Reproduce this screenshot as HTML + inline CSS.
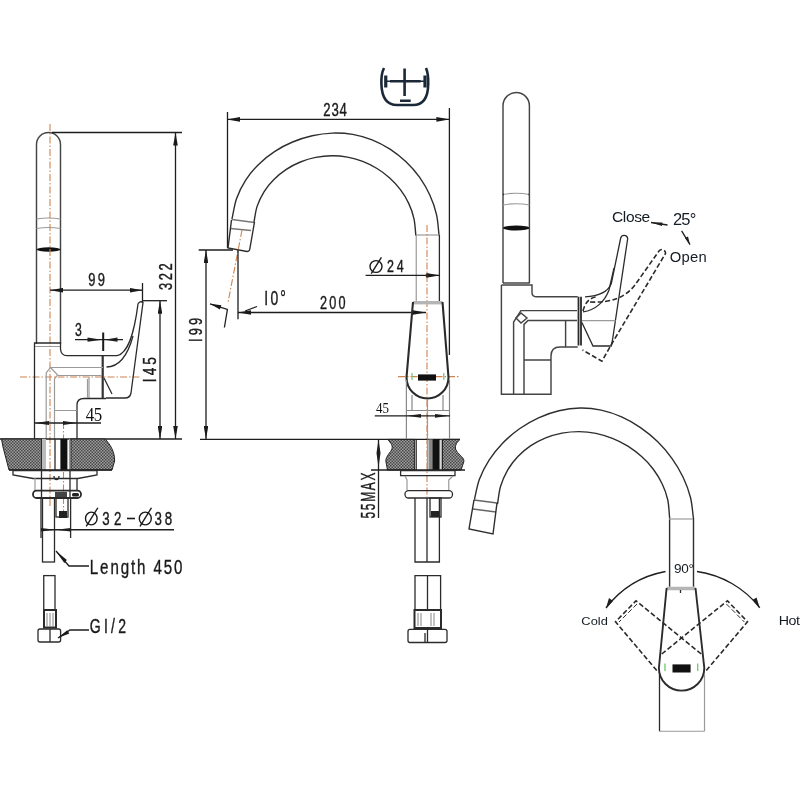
<!DOCTYPE html>
<html><head><meta charset="utf-8">
<style>
html,body{margin:0;padding:0;background:#fff;width:800px;height:800px;overflow:hidden}
svg{display:block;will-change:transform}
text{font-family:"Liberation Sans",sans-serif;fill:#222}
.k{stroke:#2b2b2b;stroke-width:1.3;fill:none}
.kb{stroke:#1a1a1a;stroke-width:2;fill:none}
.g{stroke:#9a9a9a;stroke-width:1.2;fill:none}
.m{stroke:#2e2e2e;stroke-width:1.4;fill:none}
.r{stroke:#444;stroke-width:1.45;fill:none}
.o{stroke:#cf8450;stroke-width:1.1;fill:none;stroke-dasharray:7 2 1.5 2}
.d{stroke:#2b2b2b;stroke-width:1.6;fill:none;stroke-dasharray:5 2.5}
.dim{stroke:#1e1e1e;stroke-width:1.3;fill:none}
.h{fill:url(#hatch);stroke:#222;stroke-width:1}
</style></head><body>
<svg width="800" height="800" viewBox="0 0 800 800">
<defs>
<pattern id="hatch" width="3" height="3" patternUnits="userSpaceOnUse">
<rect width="3" height="3" fill="#9e9e9e"/>
<rect width="1.5" height="1.5" fill="#484848"/>
<rect x="1.5" y="1.5" width="1.5" height="1.5" fill="#484848"/>
</pattern>
<marker id="ar" viewBox="0 0 13 4.6" refX="13" refY="2.3" markerWidth="13" markerHeight="4.6" markerUnits="userSpaceOnUse" orient="auto-start-reverse"><path d="M0,0 L13,2.3 L0,4.6 Z" fill="#1a1a1a"/></marker>
</defs>

<!-- ================= LEFT VIEW ================= -->
<g id="left">
<!-- tube -->
<path class="r" d="M36.5,344 V144.5 A12,12 0 0 1 60.5,144.5 V344"/>
<path class="g" d="M36.5,219 Q48.5,217 60.5,219 M36.5,228.5 Q48.5,226.5 60.5,228.5"/>
<ellipse cx="48.5" cy="249.5" rx="12" ry="2.2" fill="#111"/>
<!-- centerline -->
<path class="o" d="M50,124 V507"/>
<path class="o" d="M20,377 H140"/>
<path class="o" d="M63.5,422 V511"/>
<!-- 322 dim -->
<path class="dim" d="M52,132.5 H182"/>
<path class="dim" d="M175.5,132.5 V439" marker-start="url(#ar)" marker-end="url(#ar)"/>
<!-- 145 dim -->
<path class="dim" d="M142,300.7 H167"/>
<path class="dim" d="M160,300.7 V439" marker-start="url(#ar)" marker-end="url(#ar)"/>
<!-- 99 dim -->
<path class="dim" d="M50,290.2 H142.5" marker-start="url(#ar)" marker-end="url(#ar)"/>
<path class="dim" d="M142.5,283 V302.5"/>
<!-- 3 dim -->
<path class="dim" d="M75,339.7 H123"/>
<path d="M87.5,337.6 L102,339.7 L87.5,341.8 Z M117.5,337.6 L104.5,339.7 L117.5,341.8 Z" fill="#1e1e1e"/>
<path class="kb" d="M103.2,332.5 V351"/>
<!-- body -->
<path class="k" d="M34.5,439 V343 H60.5 V349 Q61,355.7 67,355.7 H117 C128,353 134,335 138,304 Q140,300.5 143,302.5 L131,393 Q130,398 125,398 H106"/>
<path class="k" d="M106.5,367 C118,367 127,358 133,336"/>
<path class="kb" style="stroke:#333;stroke-width:2.2" d="M102.7,356 V398"/>
<path class="g" d="M89,377 V398"/>
<path class="k" d="M104,378 L112,394"/>
<path class="k" d="M77,439 V405 Q77,398.5 84,398.5 H106"/>
<path class="g" d="M87.5,379 V398"/>
<path class="g" d="M46.2,439 V373 L50.5,367.5 L58,375.5 H102 M50.5,367.5 H103 M54.5,439 V379 L57,375.5 M54.5,410.5 H77 M35,346.5 H60"/>
<!-- 45 dim -->
<path class="dim" d="M35,423 H101"/>
<path d="M49,421 L35,423 L49,425 Z M63,421 L77,423 L63,425 Z" fill="#1e1e1e"/>
<!-- countertop -->
<path class="dim" d="M0,439 H182"/>
<path class="h" d="M1.5,439 H41.6 V470 H9 L3,447 Z"/>
<path class="h" d="M70.9,439 H105 C110,444 115,452 114.6,461 L112,470 H70.9 Z"/>
<rect x="42" y="439" width="4" height="31" fill="#bbb"/>
<rect x="60.4" y="439" width="7" height="31" fill="#111"/>
<path class="k" d="M55,439 V470"/><path class="g" d="M69.5,439 V470"/>
<path class="dim" d="M9,470 H112"/>
<!-- below -->
<path class="k" d="M13,470.5 H97 V475 L78,478.5 H33 L13,475 Z"/>
<path class="k" d="M41.5,470.5 V498 M70,470.5 V498 M77,478 V490"/><path class="g" d="M35,478 V490"/><path class="k" d="M54,476 Q54,479.5 56.5,479.5 Q59,479.5 59,476"/>
<rect x="33" y="490.6" width="48" height="7.4" rx="3.5" class="k" style="stroke-width:1.8"/><rect x="55" y="492" width="12" height="5" fill="#444"/><rect x="72" y="493" width="7" height="3.5" rx="1.5" fill="#222"/>
<path class="k" d="M41,498 V538 M70.6,498 V538"/>
<rect x="42.5" y="498" width="12" height="64" class="k"/>
<rect x="56" y="498" width="12" height="19" class="k"/>
<rect x="59" y="511" width="8" height="7" fill="#222"/>
<path class="dim" d="M41,529.75 H174"/>
<path d="M41,528 L55,529.75 L41,531.5 Z M70.6,528 L56,529.75 L70.6,531.5 Z" fill="#1e1e1e"/>
<path class="dim" d="M56,551 L69,566 H89"/>
<path d="M56,551 L66.9,560.1 L64.3,563.1 Z" fill="#1a1a1a"/>
<rect x="43.75" y="575.6" width="11.25" height="34.4" class="k"/>
<rect x="44" y="610" width="12" height="17.5" class="k" style="stroke-width:2"/>
<path class="g" d="M47,613 V626 M50,613 V626 M53,613 V626"/>
<rect x="38" y="629" width="22.6" height="13" rx="2" class="k"/>
<path class="k" d="M50,629 V642"/>
<path class="dim" d="M58,638 L70,630 H89"/><path d="M58,638 L67.2,630.3 L69.3,633.4 Z" fill="#1a1a1a"/>
<!-- texts -->
</g>

<!-- ================= MIDDLE VIEW ================= -->
<g id="mid">
<!-- logo -->
<g stroke="#1b2838" fill="none" stroke-width="2.6">
<path d="M384,68 Q381,74 381.4,84 Q382,105 397,105 H413 Q428,105 428.2,84 Q428.5,74 426,68"/>
<path d="M404.6,68.6 V96 M390,81.25 H420.7 M400,100.7 H410.7"/>
<path d="M385.75,75.5 V87.4 M425,75.5 V87.4" stroke-width="3.2"/>
<path d="M386,81.25 H425" stroke-width="1.6"/>
</g>
<!-- 234 dim -->
<path class="dim" d="M227,119.4 H449.4" marker-start="url(#ar)" marker-end="url(#ar)"/>
<path class="dim" d="M227.5,112 V248 M449.4,108 V355"/>
<!-- spout -->
<path class="m" d="M231.9,219.3 C233.5,212.4 234.3,205.0 236.6,198.5 C238.9,192.0 242.0,185.8 245.7,180.1 C249.4,174.4 253.8,169.1 258.6,164.4 C263.4,159.6 268.8,155.3 274.5,151.6 C280.2,147.8 286.3,144.6 292.6,142.0 C298.9,139.3 305.5,137.2 312.2,135.7 C318.8,134.3 325.7,133.4 332.4,133.1 C339.2,132.9 346.1,133.3 352.7,134.4 C359.3,135.6 365.8,137.4 372.1,139.8 C378.3,142.3 384.4,145.5 390.0,149.1 C395.7,152.8 401.1,157.1 406.0,161.8 C410.9,166.4 415.5,171.7 419.5,177.2 C423.4,182.8 427.0,188.8 429.8,195.0 C432.7,201.3 435.0,207.9 436.5,214.6 C438.1,221.4 438.2,228.5 439.1,235.5"/>
<path class="m" d="M253.8,223.0 C254.9,217.5 255.4,211.6 257.1,206.4 C258.8,201.2 261.2,196.3 264.0,191.8 C266.8,187.3 270.2,183.2 273.9,179.5 C277.6,175.7 281.9,172.4 286.3,169.4 C290.7,166.5 295.5,164.0 300.4,162.0 C305.3,160.0 310.5,158.4 315.7,157.4 C320.9,156.3 326.3,155.7 331.6,155.7 C336.9,155.6 342.2,156.1 347.4,157.1 C352.6,158.0 357.8,159.5 362.7,161.4 C367.6,163.3 372.5,165.7 377.0,168.5 C381.5,171.2 385.8,174.4 389.7,178.0 C393.6,181.5 397.3,185.5 400.4,189.7 C403.6,193.9 406.4,198.5 408.7,203.4 C411.0,208.2 412.8,213.4 414.0,218.8 C415.2,224.2 415.2,230.1 415.9,235.7"/>
<path class="g" d="M416.25,235 H439.4"/>
<path class="m" style="stroke:#777" d="M232,219.5 L254.5,222.5 M230.5,228.5 L251,230.5"/><path class="m" d="M231.5,220 L228,248 L247,251.5 Q249.5,251.5 249.8,249 L254.5,222"/>
<path class="g" d="M416.25,235 V301"/>
<path class="k" d="M439.4,235 V301"/>
<!-- centerlines -->
<path class="o" d="M427,225 V497"/>
<path class="o" d="M242,230 L227.8,303.5"/>
<path class="o" d="M398,376.6 H459"/>
<!-- 199 dim -->
<path class="dim" d="M198.7,250 H233"/>
<path class="dim" d="M206,250 V439" marker-start="url(#ar)" marker-end="url(#ar)"/>
<!-- 10 deg -->
<path class="dim" d="M210,303.8 L227.4,309.5 L224.4,327.5"/>
<path d="M210,303.75 L221.4,305.3 L219.9,309.4 Z" fill="#1a1a1a"/>
<!-- 200 dim -->
<path class="dim" d="M238,312.5 H426" marker-start="url(#ar)" marker-end="url(#ar)"/>
<path class="dim" d="M238,250 V319.3 M245,311 L257,306.5"/>
<!-- Ø24 dim -->
<path class="dim" d="M365.6,275.4 H439.4" marker-end="url(#ar)"/>
<circle cx="427" cy="275.4" r="1.6" fill="#3a2a20"/>
<!-- handle -->
<rect x="413" y="301" width="29.5" height="3.4" fill="#b5b5b5"/>
<path class="k" style="stroke-width:2.1" d="M413,302 L406.5,377.5 A21,21 0 0 0 448.5,377.5 L442.5,302"/>
<rect x="418" y="374.4" width="18" height="6.2" fill="#111"/>
<path stroke="#7c7" stroke-width="1.3" d="M412,373 V380 M443.75,373 V380"/>
<!-- body below -->
<path class="g" style="stroke:#888" d="M406.4,380 V438.5 M449.5,380 V438.5 M412,395 V410.5 M443,395 V410.5 M406.4,410.5 H449.5"/>
<path class="g" d="M427.5,399 V438"/>
<!-- 45 dim -->
<path class="dim" d="M374.8,415.8 H450"/>
<path d="M421,413.9 L407,415.8 L421,417.7 Z M435,413.9 L449,415.8 L435,417.7 Z" fill="#1e1e1e"/>
<!-- countertop -->
<path class="dim" d="M200,439.4 H460"/>
<path class="h" d="M414.4,439.4 H387.5 C391,443 393.5,446 391.5,450 C389,454 385,458 386,462 L387.5,470 H414.4 Z"/>
<path class="h" d="M442.5,439.4 H460 C456,443 454,447 456.5,451 C459,455 465,458 463.75,462 L461,470 H442.5 Z"/>
<rect x="428.5" y="439.4" width="4.5" height="30.6" fill="#888"/>
<rect x="432.6" y="439.4" width="7" height="30.6" fill="#111"/>
<path class="k" d="M416.2,439.4 V470"/><path class="g" d="M427.5,439.4 V470 M441.2,439.4 V470"/>
<path class="dim" d="M371,470 H465"/>
<!-- 55MAX dim -->
<path class="dim" d="M378.5,439.4 V518"/>
<path d="M378.5,439.4 L376.5,453 L378.5,467.5 L380.5,453 Z" fill="#1e1e1e"/>
<!-- below -->
<path class="k" d="M400.6,470.6 H455 V475.6 H400.6 Z"/>
<path class="g" d="M405,476 L407,480 V490 M453,476 L448.75,480 V490"/>
<rect x="405" y="490.6" width="47.5" height="7.4" rx="3.5" class="k"/>
<path class="k" d="M415,498 V562 H439.4 V498 M427,498 V562"/>
<rect x="430" y="498" width="11" height="19" class="k"/>
<rect x="431" y="511" width="8" height="6" fill="#222"/>
<path class="k" d="M415,610 V575.6 H440.6 V610 M427.5,575.6 V610"/>
<rect x="414.5" y="610" width="26.5" height="18" class="k" style="stroke-width:2"/>
<path class="g" d="M418,613 V626 M421,613 V626 M431,613 V626 M434,613 V626"/>
<rect x="408" y="629.4" width="39" height="13.1" rx="2" class="k"/>
<path class="k" d="M427.5,629.4 V642.5 M425,633 V642"/>
<!-- texts -->
</g>

<!-- ================= RIGHT TOP VIEW ================= -->
<g id="rt">
<path class="r" d="M503,283 V105.7 A13.2,13.2 0 0 1 529.4,105.7 V283"/>
<path class="g" d="M503,194.5 Q516,192 529.4,194.5 M503,205 Q516,202.5 529.4,205"/>
<path class="k" d="M503,194.5 h1 M528.4,194.5 h1"/>
<ellipse cx="516.2" cy="228" rx="13.2" ry="2.4" fill="#111"/>
<path class="k" d="M503,283 H529.8"/>
<path class="r" d="M501.4,285 V394.3 H551 V356 Q551,347 560,347 H577.7"/>
<path class="r" d="M501.4,285 H532 V292.7 Q532,296.8 537,296.8 H577.7"/>
<path class="k" style="stroke-width:1.8" d="M578.5,296.8 V345.6 M581,296.8 V345.6"/>
<path class="r" d="M513.6,394 V322 L520.9,310.6 H577"/>
<path class="r" d="M524,394 V324.4 L528,320.4 H577"/>
<path class="r" d="M516,318 L521,313 L527,318 L521,323 Z"/>
<path class="r" d="M565.6,320.4 V347 M524,360 H551"/>
<!-- closed lever -->
<path class="k" d="M585,296.9 C598,296 608,292 611.25,283.75 L620.7,238 A3.6,3.6 0 0 1 627.7,238.5 L612.5,340 L611.25,346 H593 L581.9,322.5"/>
<path class="k" d="M583,311.9 C596,310 605,301 609,290 L614,268"/>
<path class="g" d="M582,320.6 H615.6"/>
<!-- open lever dashed -->
<path class="d" d="M590,302 C610,303 625,298 635,285 L659,251 A3.6,3.6 0 0 1 665.5,253.5 L612.5,342.5 L601.9,361.25 L582.5,350"/>
<path class="d" d="M583,311 C585,303 589,298 596,297"/>
<!-- texts -->
<path class="dim" d="M651,222.5 L667.5,225"/>
<path d="M651,222.5 L662.5,222.4 L662,226 Z" fill="#1e1e1e"/>
<path class="dim" d="M681.6,230.8 L690,244.6"/>
<path d="M690,244.6 L685,238 L688,236.5 Z" fill="#1e1e1e"/>
</g>

<!-- ================= BOTTOM RIGHT VIEW ================= -->
<g id="br">
<path class="m" d="M474.2,500.6 C475.9,493.6 476.9,486.3 479.3,479.5 C481.8,472.8 485.2,466.2 489.1,460.1 C493.1,454.1 497.7,448.3 502.8,443.0 C507.9,437.8 513.6,432.9 519.5,428.7 C525.5,424.5 531.9,420.8 538.5,417.8 C545.1,414.7 552.1,412.3 559.0,410.7 C565.9,409.0 573.1,408.0 580.2,408.0 C587.2,407.9 594.3,408.6 601.2,410.1 C608.1,411.6 615.0,413.9 621.6,416.9 C628.1,419.8 634.5,423.4 640.5,427.6 C646.5,431.7 652.3,436.5 657.5,441.6 C662.7,446.7 667.6,452.4 671.9,458.3 C676.2,464.3 680.0,470.7 683.1,477.2 C686.2,483.7 688.8,490.6 690.5,497.5 C692.2,504.4 692.5,511.6 693.5,518.6 V586.75"/>
<path class="m" d="M497.5,504.2 C498.5,498.2 498.9,491.8 500.6,486.2 C502.3,480.5 504.8,475.1 507.6,470.1 C510.5,465.2 514.0,460.6 517.9,456.5 C521.7,452.5 526.2,448.8 530.8,445.7 C535.4,442.6 540.5,440.0 545.7,437.9 C550.9,435.8 556.4,434.2 562.0,433.1 C567.5,432.1 573.3,431.6 578.9,431.6 C584.6,431.7 590.4,432.3 596.0,433.4 C601.5,434.6 607.1,436.3 612.4,438.4 C617.8,440.5 623.0,443.2 627.9,446.2 C632.7,449.3 637.4,452.8 641.6,456.6 C645.9,460.4 649.8,464.7 653.3,469.2 C656.7,473.7 659.7,478.6 662.1,483.8 C664.6,488.9 666.5,494.3 667.8,500.0 C669.0,505.6 669.0,511.7 669.6,517.5 V586.75"/>
<path class="g" d="M669,519 H693"/>
<path class="m" style="stroke:#666" d="M474,500 L497,503 M473,509 L496,512"/><path class="m" d="M474,500 L469,529 L493,534 L497,503"/>
<!-- arc -->
<path class="dim" d="M606,608 A97,97 0 0 1 665.5,571.5" />
<path class="dim" d="M697,571.5 A97,97 0 0 1 759.75,607.75"/>
<path d="M606,608 L609,598 L613,601 Z M759.75,607.75 L752.5,600 L756.5,597.5 Z" fill="#1e1e1e"/>
<!-- handle -->
<rect x="666.6" y="586.75" width="28.9" height="3.5" fill="#b5b5b5"/>
<path class="k" style="stroke-width:1.9" d="M666.6,588 L658.9,668 A22.7,22.7 0 0 0 704.3,668 L695.5,588"/>
<path class="k" d="M680.5,590 v3"/>
<rect x="672.5" y="664.4" width="18.1" height="8.1" fill="#111"/>
<path stroke="#7c7" stroke-width="1.4" d="M665,663.5 V671 M697.7,663.5 V671"/>
<!-- cold/hot dashed -->
<path class="d" d="M701.25,654 L636,600.75 L615.5,621.75 L658.4,672.5"/>
<path class="d" style="stroke-width:1" d="M637,604 L619,622"/>
<path class="d" d="M661.75,654 L727.4,600.75 L747.5,621.75 L704.6,672.5"/>
<path class="d" style="stroke-width:1" d="M726.4,604 L744.4,622"/>
<!-- lower body -->
<path class="k" d="M659.5,674 V731.25"/><path class="g" d="M704.5,674 V731.25"/>
<path class="g" d="M659.5,731.25 H704.5"/>
</g>
<!-- phi symbols -->
<g fill="none" stroke="#1a1a1a" stroke-width="1.4">
<ellipse cx="91.3" cy="518.5" rx="5.8" ry="6.4"/><path d="M86.2,526.3 L97.9,507.75"/>
<path d="M127,518.5 H135" stroke-width="1.6"/>
<ellipse cx="145.3" cy="518.5" rx="6" ry="6.4"/><path d="M140,526.3 L151.5,507.75"/>
<ellipse cx="376" cy="266.5" rx="6" ry="5.9"/><path d="M371.25,273.6 L381.4,257.3"/>
</g>
<text transform="translate(88.35,286.32) scale(0.7200,1)" font-size="17.96" letter-spacing="3.11" style="font-family:'Liberation Sans',serif;fill:#1a1a1a;stroke:#1a1a1a;stroke-width:0.4">99</text>
<text transform="translate(172.07,290.02) rotate(-90) scale(0.7200,1)" font-size="17.96" letter-spacing="3.52" style="font-family:'Liberation Sans',serif;fill:#1a1a1a;stroke:#1a1a1a;stroke-width:0.4">322</text>
<text transform="translate(75.01,335.56) scale(0.6434,1)" font-size="19.01" letter-spacing="0.00" style="font-family:'Liberation Sans',serif;fill:#1a1a1a;stroke:#1a1a1a;stroke-width:0.4">3</text>
<text transform="translate(155.71,382.13) rotate(-90) scale(0.7200,1)" font-size="19.01" letter-spacing="4.20" style="font-family:'Liberation Sans',serif;fill:#1a1a1a;stroke:#1a1a1a;stroke-width:0.4">I45</text>
<text transform="translate(85.86,421.12) scale(0.9000,1)" font-size="18.75" letter-spacing="-0.74" style="font-family:'Liberation Serif',serif;fill:#111">45</text>
<text transform="translate(102.17,524.82) scale(0.7200,1)" font-size="18.45" letter-spacing="6.04" style="font-family:'Liberation Sans',serif;fill:#1a1a1a;stroke:#1a1a1a;stroke-width:0.4">32</text>
<text transform="translate(154.47,524.82) scale(0.7200,1)" font-size="18.45" letter-spacing="3.91" style="font-family:'Liberation Sans',serif;fill:#1a1a1a;stroke:#1a1a1a;stroke-width:0.4">38</text>
<text transform="translate(89.79,573.80) scale(0.7200,1)" font-size="21.01" letter-spacing="2.62" style="font-family:'Liberation Sans',serif;fill:#1a1a1a;stroke:#1a1a1a;stroke-width:0.4">Length 450</text>
<text transform="translate(89.80,633.40) scale(0.7200,1)" font-size="19.51" letter-spacing="4.52" style="font-family:'Liberation Sans',serif;fill:#1a1a1a;stroke:#1a1a1a;stroke-width:0.4">GI/2</text>
<text transform="translate(323.34,116.32) scale(0.7200,1)" font-size="18.31" letter-spacing="1.07" style="font-family:'Liberation Sans',serif;fill:#1a1a1a;stroke:#1a1a1a;stroke-width:0.4">234</text>
<text transform="translate(264.35,304.81) scale(0.7200,1)" font-size="19.37" letter-spacing="3.01" style="font-family:'Liberation Sans',serif;fill:#1a1a1a;stroke:#1a1a1a;stroke-width:0.4">I0°</text>
<text transform="translate(319.97,309.22) scale(0.7200,1)" font-size="17.61" letter-spacing="3.04" style="font-family:'Liberation Sans',serif;fill:#1a1a1a;stroke:#1a1a1a;stroke-width:0.4">200</text>
<text transform="translate(386.98,271.73) scale(0.7200,1)" font-size="17.32" letter-spacing="3.96" style="font-family:'Liberation Sans',serif;fill:#1a1a1a;stroke:#1a1a1a;stroke-width:0.4">24</text>
<text transform="translate(201.92,342.06) rotate(-90) scale(0.7200,1)" font-size="17.89" letter-spacing="4.45" style="font-family:'Liberation Sans',serif;fill:#1a1a1a;stroke:#1a1a1a;stroke-width:0.4">I99</text>
<text transform="translate(375.94,413.11) scale(0.9000,1)" font-size="14.41" letter-spacing="0.01" style="font-family:'Liberation Serif',serif;fill:#111">45</text>
<text transform="translate(375.40,518.48) rotate(-90) scale(0.5800,1)" font-size="20.50" letter-spacing="2.95" style="font-family:'Liberation Sans',serif;fill:#1a1a1a;stroke:#1a1a1a;stroke-width:0.4">55MAX</text>
<text transform="translate(611.97,221.84) scale(1.0000,1)" font-size="15.54" letter-spacing="-0.37" style="font-family:'Liberation Sans',serif;fill:#141c24">Close</text>
<text transform="translate(672.88,225.34) scale(1.0000,1)" font-size="16.48" letter-spacing="-0.69" style="font-family:'Liberation Sans',serif;fill:#141c24">25°</text>
<text transform="translate(669.76,262.05) scale(1.0000,1)" font-size="14.79" letter-spacing="0.25" style="font-family:'Liberation Sans',serif;fill:#141c24">Open</text>
<text transform="translate(674.07,572.63) scale(1.1000,1)" font-size="12.32" letter-spacing="-0.33" style="font-family:'Liberation Sans',serif;fill:#141c24">90°</text>
<text transform="translate(581.36,625.14) scale(1.1200,1)" font-size="11.49" letter-spacing="0.01" style="font-family:'Liberation Sans',serif;fill:#141c24">Cold</text>
<text transform="translate(778.76,624.78) scale(1.2000,1)" font-size="11.86" letter-spacing="-0.42" style="font-family:'Liberation Sans',serif;fill:#141c24">Hot</text>
</svg>
</body></html>
